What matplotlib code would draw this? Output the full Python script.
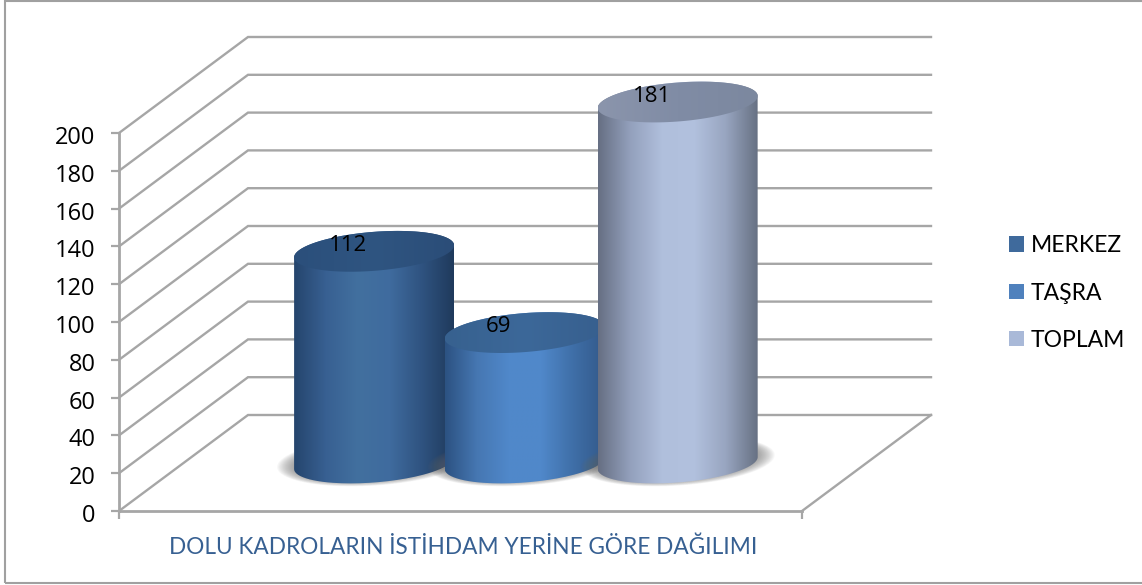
import numpy as np
import matplotlib
matplotlib.use('Agg')
import matplotlib.pyplot as plt
from matplotlib.colors import LinearSegmentedColormap
from matplotlib.patches import Patch, PathPatch, Rectangle
from matplotlib.path import Path
from matplotlib.transforms import ScaledTranslation

plt.rcParams['font.family'] = ['Lato', 'DejaVu Sans']

categories = ['MERKEZ', 'TAŞRA', 'TOPLAM']
data_labels = ['112', '69', '181']
# the tall cylinder is drawn higher than its label in the picture
bar_heights = [112, 69, 191]
y_ticks = [0, 20, 40, 60, 80, 100, 120, 140, 160, 180, 200]
x_title = 'DOLU KADROLARIN İSTİHDAM YERİNE GÖRE DAĞILIMI'

W, H = 1142, 585
GRID = '#a6a6a6'
TEXT_BLUE = '#376092'
legend_colors = ['#3f6a9c', '#4f81bd', '#a9b9d8']
body_stops = [
    ['#25456d', '#386092', '#42709f', '#3f6b9e', '#2f5380', '#1f3a5c'],
    ['#2c5282', '#4677b2', '#5088ca', '#5088ca', '#3f6fa8', '#33598a'],
    ['#666f83', '#93a0bc', '#b0bfdc', '#b2c1de', '#98a5c0', '#677183'],
]
cap_stops = [
    ['#2b4f7b', '#2f5581', '#2b4d78'],
    ['#37618f', '#3c6899', '#375f8e'],
    ['#8b95ac', '#808ca5', '#7c889f'],
]

fig = plt.figure(figsize=(W / 100, H / 100), dpi=100)
ax = fig.add_axes([119 / W, (H - 511) / H, 683 / W, 378 / H])
ax.patch.set_visible(False)
ax.set_xlim(0, 1)
ax.set_ylim(0, 200)

# pixels per data unit, depth of the fake 3d box
px_x = 683.0
px_y = 378 / 200
depth_x = 129 / px_x
depth_y = 96 / px_y

# outer frame, its right edge falls outside the picture
fig.add_artist(Rectangle((4.5 / W, 2.5 / H), 1150 / W, 582 / H, transform=fig.transFigure,
                         fill=False, edgecolor='#a0a0a0', linewidth=1.5))

# walls and floor
for v in y_ticks:
    ax.plot([0, depth_x, 1 + depth_x], [v, v + depth_y, v + depth_y], color=GRID,
            linewidth=1.7, clip_on=False, zorder=1, solid_joinstyle='miter')
ax.plot([1, 1 + depth_x], [0, depth_y], color=GRID, linewidth=1.7, clip_on=False, zorder=1)

for side in ['top', 'right']:
    ax.spines[side].set_visible(False)
for side in ['left', 'bottom']:
    ax.spines[side].set_color(GRID)
    ax.spines[side].set_linewidth(2)
ax.set_yticks(y_ticks)
ax.set_xticks([0, 1])
ax.set_xticklabels([])
ax.tick_params(axis='both', color=GRID, width=1.6, length=5.8)
ax.tick_params(axis='y', labelsize=17, pad=11, labelfontfamily='Open Sans')
shift = ScaledTranslation(0, -2 / 100, fig.dpi_scale_trans)
for lab in ax.get_yticklabels():
    lab.set_transform(lab.get_transform() + shift)
ax.set_xlabel(x_title, fontsize=16.3, color=TEXT_BLUE, labelpad=9, x=(463 - 119) / 683)

# cylinders
centers = [0.3735, 0.594, 0.818]
base_y = 48 / px_y
rad_x = 80 / px_x
rad_y = 19.5 / px_y
tilt = 6 / px_y


def ellipse(cx, cy, ax_r, ay_r, t):
    return cx + ax_r * np.cos(t), cy + ay_r * np.sin(t) + tilt * np.cos(t)


def gradient_fill(path, stops, x0, x1, y0, y1, z):
    cmap = LinearSegmentedColormap.from_list('g', stops)
    patch = PathPatch(path, transform=ax.transData, facecolor='none', edgecolor='none')
    im = ax.imshow(np.linspace(0, 1, 256).reshape(1, -1), cmap=cmap, vmin=0, vmax=1,
                   extent=[x0, x1, y0, y1], aspect='auto', interpolation='bilinear', zorder=z)
    im.set_clip_box(fig.bbox)
    im.set_clip_path(patch)


z = 3
for i, cx in enumerate(centers):
    top = base_y + bar_heights[i]

    # soft shadow round the foot
    t = np.linspace(0, 2 * np.pi, 120)
    for grow in np.linspace(17, 0, 16):
        sx, sy = ellipse(cx, base_y + 2 / px_y, rad_x + grow / px_x, rad_y + grow * 0.3 / px_y, t)
        ax.fill(sx, sy, color='#666666', alpha=0.05, linewidth=0, clip_on=False, zorder=z)

    front = np.linspace(np.pi, 2 * np.pi, 80)
    bx, by = ellipse(cx, base_y, rad_x, rad_y, front)
    back = np.linspace(0, np.pi, 80)
    tx, ty = ellipse(cx, top, rad_x, rad_y, back)
    body = Path(np.column_stack([np.r_[bx, tx], np.r_[by, ty]]))
    gradient_fill(body, body_stops[i], cx - rad_x, cx + rad_x, base_y - 40, top + 40, z + 1)

    cap_x, cap_y = ellipse(cx, top, rad_x, rad_y, t)
    cap = Path(np.column_stack([cap_x, cap_y]))
    gradient_fill(cap, cap_stops[i], cx - rad_x, cx + rad_x, top - 30, top + 30, z + 2)

    ax.annotate(data_labels[i], (cx, top), xytext=(-26, 6), textcoords='offset pixels',
                ha='center', va='center', fontsize=16, family='Open Sans', color='black',
                zorder=z + 3, annotation_clip=False)
    z += 4

ax.set_xlim(0, 1)
ax.set_ylim(0, 200)

handles = [Patch(facecolor=c, edgecolor='none') for c in legend_colors]
fig.legend(handles, categories, loc='center left', bbox_to_anchor=(1009 / W, (H - 293) / H),
           frameon=False, fontsize=16.5, handlelength=0.65, handleheight=0.65,
           handletextpad=0.3, labelspacing=1.15, borderpad=0, borderaxespad=0)

fig.savefig('out.png', dpi=100)
